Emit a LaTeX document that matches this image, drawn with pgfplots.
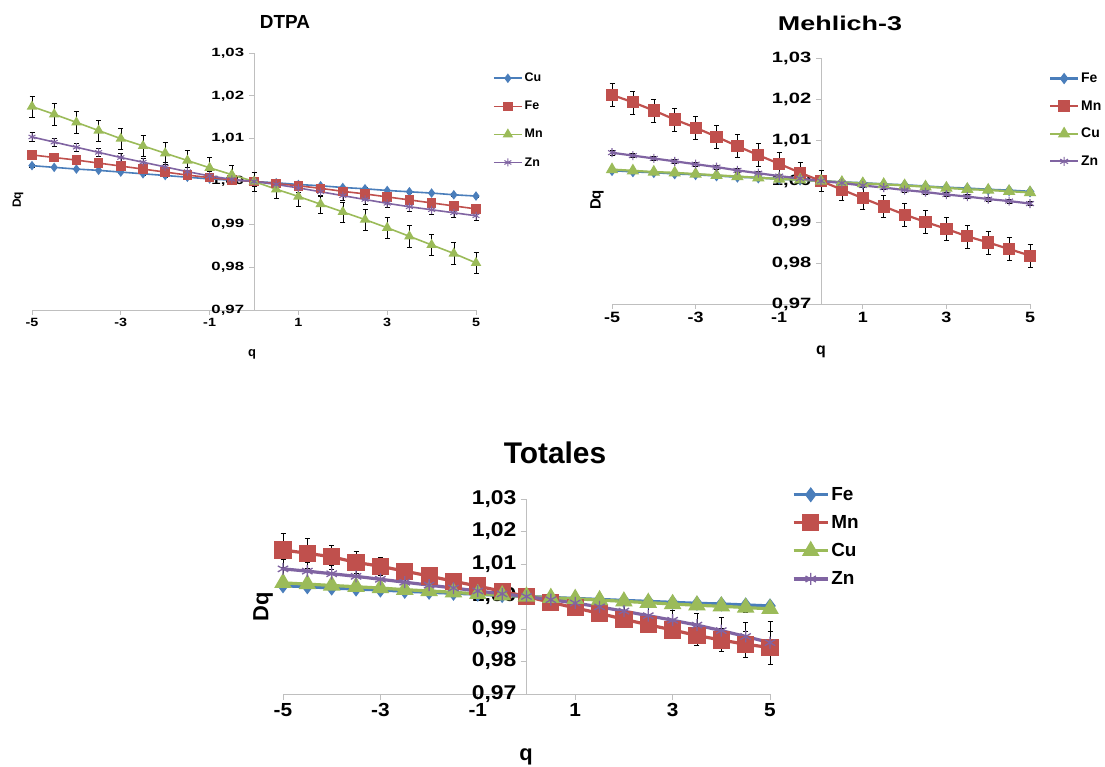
\documentclass[border=0pt]{standalone}
\usepackage{fontspec}
\setmainfont{Liberation Sans}
\usepackage{pgfplots}
\usepackage{pgfplotstable}
\pgfplotsset{compat=1.18}
\definecolor{cB}{HTML}{4A7EBB}
\definecolor{cR}{HTML}{C0504D}
\definecolor{cG}{HTML}{9BBB59}
\definecolor{cP}{HTML}{8064A2}
\definecolor{axg}{HTML}{BFBFBF}

\pgfplotstableread{
q Cu CuE Fe FeE Mn MnE Zn ZnE
-5 1.0037 0.0003 1.0062 0.0005 1.0175 0.0025 1.0104 0.0010
-4.5 1.0033 0.0003 1.0056 0.0005 1.0157 0.0025 1.0092 0.0010
-4 1.0029 0.0003 1.0050 0.0005 1.0138 0.0025 1.0080 0.0010
-3.5 1.0026 0.0003 1.0043 0.0005 1.0119 0.0025 1.0068 0.0010
-3 1.0022 0.0003 1.0036 0.0005 1.0100 0.0025 1.0056 0.0010
-2.5 1.0018 0.0003 1.0029 0.0005 1.0083 0.0025 1.0045 0.0010
-2 1.0014 0.0003 1.0022 0.0005 1.0066 0.0025 1.0034 0.0010
-1.5 1.0010 0.0003 1.0015 0.0005 1.0049 0.0025 1.0023 0.0010
-1 1.0006 0.0003 1.0009 0.0005 1.0032 0.0024 1.0013 0.0010
-0.5 1.0003 0.0003 1.0004 0.0005 1.0016 0.0023 1.0005 0.0010
0 1.0000 0.0003 1.0000 0.0005 1.0000 0.0022 1.0000 0.0010
0.5 0.9997 0.0003 0.9995 0.0005 0.9982 0.0022 0.9993 0.0010
1 0.9993 0.0003 0.9990 0.0005 0.9965 0.0022 0.9985 0.0010
1.5 0.9990 0.0003 0.9984 0.0005 0.9947 0.0022 0.9976 0.0010
2 0.9986 0.0003 0.9977 0.0005 0.9929 0.0023 0.9967 0.0010
2.5 0.9983 0.0003 0.9971 0.0005 0.9911 0.0024 0.9958 0.0010
3 0.9979 0.0003 0.9964 0.0005 0.9892 0.0024 0.9949 0.0010
3.5 0.9976 0.0003 0.9957 0.0005 0.9872 0.0025 0.9941 0.0010
4 0.9973 0.0003 0.9950 0.0005 0.9852 0.0025 0.9934 0.0010
4.5 0.9969 0.0003 0.9943 0.0005 0.9832 0.0025 0.9927 0.0010
5 0.9966 0.0003 0.9936 0.0005 0.9810 0.0025 0.9920 0.0010
}\dtpa

\pgfplotstableread{
q Fe FeE Mn MnE Cu CuE Zn ZnE
-5 1.0026 0.0002 1.0210 0.0028 1.0028 0.0003 1.0069 0.0005
-4.5 1.0023 0.0002 1.0192 0.0028 1.0025 0.0003 1.0062 0.0005
-4 1.0021 0.0002 1.0172 0.0028 1.0022 0.0003 1.0055 0.0005
-3.5 1.0018 0.0002 1.0150 0.0028 1.0020 0.0003 1.0048 0.0005
-3 1.0016 0.0002 1.0130 0.0028 1.0017 0.0003 1.0041 0.0005
-2.5 1.0013 0.0002 1.0108 0.0028 1.0014 0.0003 1.0034 0.0005
-2 1.0010 0.0002 1.0085 0.0028 1.0011 0.0003 1.0026 0.0005
-1.5 1.0008 0.0002 1.0063 0.0028 1.0008 0.0003 1.0019 0.0005
-1 1.0005 0.0002 1.0042 0.0027 1.0005 0.0003 1.0012 0.0005
-0.5 1.0003 0.0002 1.0020 0.0026 1.0003 0.0003 1.0006 0.0005
0 1.0000 0.0002 1.0000 0.0025 1.0000 0.0003 1.0000 0.0005
0.5 0.9997 0.0002 0.9979 0.0025 0.9997 0.0003 0.9995 0.0005
1 0.9995 0.0002 0.9958 0.0026 0.9994 0.0003 0.9989 0.0005
1.5 0.9992 0.0002 0.9938 0.0027 0.9992 0.0003 0.9984 0.0005
2 0.9990 0.0002 0.9918 0.0028 0.9989 0.0003 0.9978 0.0005
2.5 0.9987 0.0002 0.9900 0.0028 0.9986 0.0003 0.9973 0.0005
3 0.9984 0.0002 0.9883 0.0028 0.9983 0.0003 0.9967 0.0005
3.5 0.9982 0.0002 0.9865 0.0028 0.9980 0.0003 0.9962 0.0005
4 0.9979 0.0002 0.9850 0.0028 0.9978 0.0003 0.9956 0.0005
4.5 0.9977 0.0002 0.9834 0.0028 0.9975 0.0003 0.9951 0.0005
5 0.9974 0.0002 0.9818 0.0028 0.9972 0.0003 0.9945 0.0005
}\mehl

\pgfplotstableread{
q Fe FeE Mn MnE Cu CuE Zn ZnE
-5 1.0033 0.0003 1.0143 0.0052 1.0042 0.0015 1.0085 0.0030
-4.5 1.0030 0.0003 1.0133 0.0045 1.0038 0.0014 1.0078 0.0028
-4 1.0026 0.0003 1.0122 0.0037 1.0034 0.0013 1.0070 0.0025
-3.5 1.0023 0.0003 1.0105 0.0034 1.0030 0.0012 1.0062 0.0022
-3 1.0020 0.0003 1.0093 0.0029 1.0026 0.0010 1.0053 0.0020
-2.5 1.0016 0.0003 1.0078 0.0024 1.0021 0.0008 1.0044 0.0017
-2 1.0013 0.0003 1.0063 0.0018 1.0017 0.0006 1.0035 0.0014
-1.5 1.0010 0.0003 1.0047 0.0014 1.0013 0.0005 1.0026 0.0011
-1 1.0007 0.0003 1.0032 0.0010 1.0008 0.0004 1.0017 0.0008
-0.5 1.0003 0.0003 1.0016 0.0008 1.0004 0.0003 1.0008 0.0006
0 1.0000 0.0003 1.0000 0.0008 1.0000 0.0003 1.0000 0.0005
0.5 0.9997 0.0003 0.9982 0.0010 0.9996 0.0003 0.9990 0.0008
1 0.9994 0.0003 0.9965 0.0012 0.9993 0.0004 0.9980 0.0011
1.5 0.9991 0.0003 0.9948 0.0015 0.9989 0.0005 0.9968 0.0015
2 0.9988 0.0003 0.9930 0.0018 0.9985 0.0006 0.9955 0.0020
2.5 0.9985 0.0003 0.9913 0.0022 0.9981 0.0008 0.9941 0.0025
3 0.9982 0.0003 0.9897 0.0025 0.9977 0.0010 0.9927 0.0030
3.5 0.9979 0.0003 0.9880 0.0030 0.9973 0.0012 0.9912 0.0035
4 0.9977 0.0003 0.9866 0.0035 0.9970 0.0013 0.9895 0.0040
4.5 0.9974 0.0003 0.9853 0.0040 0.9966 0.0014 0.9877 0.0045
5 0.9971 0.0003 0.9843 0.0050 0.9962 0.0015 0.9858 0.0065
}\tot

\pgfplotsset{
  base/.style={
    scale only axis, xmin=-5, xmax=5, ymin=0.97, ymax=1.03,
    axis x line=bottom, axis y line=center,
    axis line style={draw=axg, line width=0.8bp, -},
    every tick/.style={draw=axg, line width=0.8bp},
    hide obscured x ticks=false, hide obscured y ticks=false,
    xtick={-5,-3,-1,1,3,5}, xticklabels={-5,-3,-1,1,3,5},
    ytick={0.97,0.98,0.99,1,1.01,1.02,1.03},
    yticklabels={{0,97},{0,98},{0,99},{1,00},{1,01},{1,02},{1,03}},
    major tick length=5bp, tick align=outside, clip=false,
    legend cell align=left,
    minor tick num=0,
  },
  eb/.style={error bars/.cd, y dir=both, y explicit,
    error bar style={black, line width=0.5bp},
    error mark options={black, rotate=90, line width=0.5bp, mark size=2.5bp}},
}

\begin{document}
\begin{tikzpicture}
\useasboundingbox (0,0) rectangle (1105bp,767bp);
\fill[white] (0,0) rectangle (1105bp,767bp);

% ---------------- DTPA ----------------
\begin{axis}[base, at={(32bp,457bp)}, anchor=south west,
  width=444bp, height=257bp,
  yticklabel style={font=\bfseries\fontsize{12}{14}\selectfont, xscale=1.4},
  xticklabel style={font=\bfseries\fontsize{12}{14}\selectfont, xscale=1.2},
  every axis plot/.append style={line width=1.6bp},
  legend image code/.code={\draw[mark repeat=2,mark phase=2] plot coordinates {(0bp,0bp) (14bp,0bp) (28bp,0bp)};},
  legend style={draw=none, fill=none, at={(1.038,0.93)}, anchor=north west,
    font=\bfseries\fontsize{12.5}{14}\selectfont, row sep=14bp, inner sep=0pt},
]
\addplot[cB, mark=diamond*, mark size=3.5bp, mark options={solid, fill=cB}, eb] table[x=q, y=Cu, y error=CuE]{\dtpa};
\addlegendentry{Cu}
\addplot[cR, mark=square*, mark size=4bp, mark options={solid, fill=cR}, eb] table[x=q, y=Fe, y error=FeE]{\dtpa};
\addlegendentry{Fe}
\addplot[cG, mark=triangle*, mark size=4.5bp, mark options={solid, fill=cG}, eb] table[x=q, y=Mn, y error=MnE]{\dtpa};
\addlegendentry{Mn}
\addplot[cP, mark=asterisk, mark size=4bp, mark options={solid, line width=1bp}, eb] table[x=q, y=Zn, y error=ZnE]{\dtpa};
\addlegendentry{Zn}
\end{axis}
\node[font=\bfseries\fontsize{19}{22}\selectfont] at (285bp,745bp) {DTPA};
\node[font=\bfseries\fontsize{12}{14}\selectfont, rotate=90] at (18bp,567bp) {Dq};
\node[font=\bfseries\fontsize{13}{15}\selectfont] at (252bp,413bp) {q};

% ---------------- Mehlich-3 ----------------
\begin{axis}[base, at={(612bp,463bp)}, anchor=south west,
  width=418bp, height=246bp,
  yticklabel style={font=\bfseries\fontsize{15}{17}\selectfont, xscale=1.35},
  xticklabel style={font=\bfseries\fontsize{15}{17}\selectfont, xscale=1.2},
  every axis plot/.append style={line width=2.2bp},
  legend image code/.code={\draw[mark repeat=2,mark phase=2] plot coordinates {(0bp,0bp) (14bp,0bp) (28bp,0bp)};},
  legend style={draw=none, fill=none, at={(1.045,0.948)}, anchor=north west,
    font=\bfseries\fontsize{14}{16}\selectfont, row sep=12.5bp, inner sep=0pt},
]
\addplot[cB, mark=diamond*, mark size=4bp, mark options={solid, fill=cB}, eb] table[x=q, y=Fe, y error=FeE]{\mehl};
\addlegendentry{Fe}
\addplot[cR, mark=square*, mark size=5bp, mark options={solid, fill=cR}, eb] table[x=q, y=Mn, y error=MnE]{\mehl};
\addlegendentry{Mn}
\addplot[cG, mark=triangle*, mark size=5bp, mark options={solid, fill=cG}, eb] table[x=q, y=Cu, y error=CuE]{\mehl};
\addlegendentry{Cu}
\addplot[cP, mark=asterisk, mark size=4.5bp, mark options={solid, line width=1.1bp}, eb] table[x=q, y=Zn, y error=ZnE]{\mehl};
\addlegendentry{Zn}
\end{axis}
\node[font=\bfseries\fontsize{20}{23}\selectfont, xscale=1.35] at (840bp,744bp) {Mehlich-3};
\node[font=\bfseries\fontsize{15}{17}\selectfont, rotate=90] at (597bp,567bp) {Dq};
\node[font=\bfseries\fontsize{16}{18}\selectfont] at (821bp,415bp) {q};

% ---------------- Totales ----------------
\begin{axis}[base, at={(283bp,73bp)}, anchor=south west,
  width=487bp, height=195bp,
  yticklabel style={font=\bfseries\fontsize{20}{23}\selectfont, xscale=1.15},
  xticklabel style={font=\bfseries\fontsize{19}{22}\selectfont, xscale=1.1},
  every axis plot/.append style={line width=3.2bp},
  major tick length=6bp,
  legend image code/.code={\draw[mark repeat=2,mark phase=2] plot coordinates {(0bp,0bp) (17bp,0bp) (34bp,0bp)};},
  legend style={draw=none, fill=none, at={(1.045,1.07)}, anchor=north west,
    font=\bfseries\fontsize{19}{21}\selectfont, row sep=9.5bp, inner sep=0pt},
]
\addplot[cB, mark=diamond*, mark size=5bp, mark options={solid, fill=cB}, eb] table[x=q, y=Fe, y error=FeE]{\tot};
\addlegendentry{Fe}
\addplot[cR, mark=square*, mark size=7bp, mark options={solid, fill=cR}, eb] table[x=q, y=Mn, y error=MnE]{\tot};
\addlegendentry{Mn}
\addplot[cG, mark=triangle*, mark size=7bp, mark options={solid, fill=cG}, eb] table[x=q, y=Cu, y error=CuE]{\tot};
\addlegendentry{Cu}
\addplot[cP, mark=asterisk, mark size=6bp, mark options={solid, line width=1.3bp}, eb] table[x=q, y=Zn, y error=ZnE]{\tot};
\addlegendentry{Zn}
\end{axis}
\node[font=\bfseries\fontsize{30}{34}\selectfont] at (555bp,314bp) {Totales};
\node[font=\bfseries\fontsize{22}{25}\selectfont, rotate=90] at (263bp,160bp) {Dq};
\node[font=\bfseries\fontsize{22}{25}\selectfont] at (526bp,10bp) {q};
\end{tikzpicture}
\end{document}
